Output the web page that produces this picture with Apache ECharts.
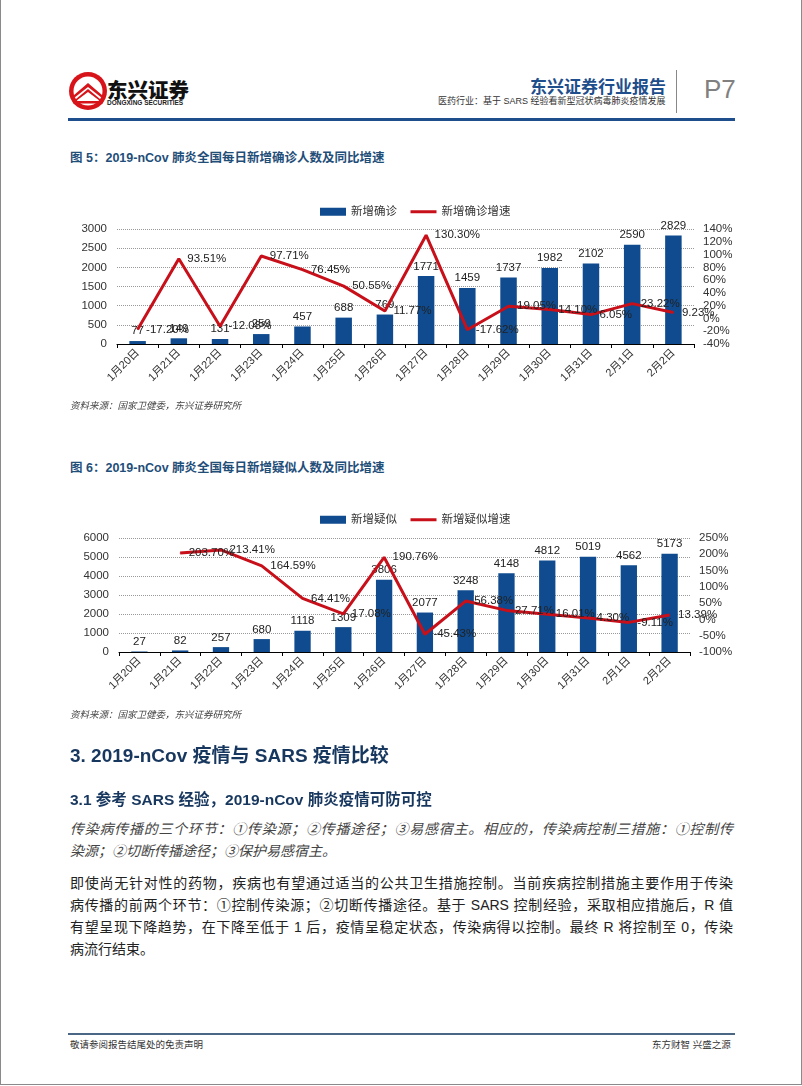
<!DOCTYPE html>
<html>
<head>
<meta charset="utf-8">
<script src="https://cdn.jsdelivr.net/npm/echarts@6/dist/echarts.min.js"></script>
<style>
  html, body { margin: 0; padding: 0; background: #fff; }
  body { width: 802px; height: 1086px; position: relative; overflow: hidden;
         font-family: "Liberation Sans", "Noto Sans CJK SC", sans-serif; }
  .frame { position: absolute; left: 0; top: 0; width: 800px; height: 1084px;
           border-left: 1px solid #8a8a8a; border-right: 1px solid #8a8a8a; border-bottom: 1px solid #8a8a8a; }
  .abs { position: absolute; white-space: nowrap; }
  .figtitle { font-size: 12.5px; font-weight: bold; color: #1f4e79; }
  .source { font-size: 9.5px; font-style: italic; color: #444; }
  .line { position: absolute; left: 70px; width: 663px; font-size: 14px; line-height: 22px;
          text-align: justify; text-align-last: justify; white-space: nowrap; }
  .p1 { font-style: italic; color: #444; }
  .p2 { color: #222; }
</style>
</head>
<body>
<div class="frame"></div>

<!-- header -->
<svg class="abs" style="left:68px;top:71px" width="40" height="40" viewBox="0 0 40 40">
  <circle cx="20" cy="20" r="19" fill="#d7141a"/>
  <circle cx="20" cy="20" r="14.5" fill="#fff"/>
  <path d="M6 24 L20 12 L34 24 L34 27 L20 16 L6 27 Z" fill="#d7141a"/>
  <path d="M8 28 L20 18 L32 28 L32 30 L20 21 L8 30 Z" fill="#d7141a"/>
  <rect x="5" y="30" width="30" height="2.5" fill="#d7141a"/>
</svg>
<div class="abs" style="left:107px;top:74px;font-size:20.5px;font-weight:900;color:#111">东兴证券</div>
<div class="abs" style="left:107px;top:99px;font-size:6.5px;font-weight:bold;color:#222">DONGXING SECURITIES</div>
<div class="abs" style="left:530px;top:73px;font-size:17px;font-weight:bold;color:#1f4e8c">东兴证券行业报告</div>
<div class="abs" style="left:438px;top:94px;font-size:9px;color:#333">医药行业：基于 SARS 经验看新型冠状病毒肺炎疫情发展</div>
<div class="abs" style="left:676px;top:70px;width:1px;height:43px;background:#888"></div>
<div class="abs" style="left:704px;top:74px;font-size:26px;color:#808080">P7</div>
<div class="abs" style="left:68px;top:118px;width:667px;height:3px;background:#1f4e8c"></div>

<!-- figure 5 -->
<div class="abs figtitle" style="left:70px;top:147px">图 5：2019-nCov 肺炎全国每日新增确诊人数及同比增速</div>
<div id="chart1" class="abs" style="left:60px;top:185px;width:700px;height:220px"></div>
<div class="abs source" style="left:70px;top:398px">资料来源：国家卫健委，东兴证券研究所</div>

<!-- figure 6 -->
<div class="abs figtitle" style="left:70px;top:457px">图 6：2019-nCov 肺炎全国每日新增疑似人数及同比增速</div>
<div id="chart2" class="abs" style="left:60px;top:495px;width:700px;height:220px"></div>
<div class="abs source" style="left:70px;top:707px">资料来源：国家卫健委，东兴证券研究所</div>

<!-- text -->
<div class="abs" style="left:70px;top:740px;font-size:19px;font-weight:bold;color:#17375e">3. 2019-nCov 疫情与 SARS 疫情比较</div>
<div class="abs" style="left:70px;top:787px;font-size:15.5px;font-weight:bold;color:#17375e">3.1 参考 SARS 经验，2019-nCov 肺炎疫情可防可控</div>

<div class="line p1" style="top:818px">传染病传播的三个环节：①传染源；②传播途径；③易感宿主。相应的，传染病控制三措施：①控制传</div>
<div class="line p1" style="top:840px;text-align-last:left">染源；②切断传播途径；③保护易感宿主。</div>

<div class="line p2" style="top:872px">即使尚无针对性的药物，疾病也有望通过适当的公共卫生措施控制。当前疾病控制措施主要作用于传染</div>
<div class="line p2" style="top:894px">病传播的前两个环节：①控制传染源；②切断传播途径。基于 SARS 控制经验，采取相应措施后，R 值</div>
<div class="line p2" style="top:916px">有望呈现下降趋势，在下降至低于 1 后，疫情呈稳定状态，传染病得以控制。最终 R 将控制至 0，传染</div>
<div class="line p2" style="top:938px;text-align-last:left">病流行结束。</div>

<!-- footer -->
<div class="abs" style="left:68px;top:1033px;width:667px;height:2px;background:#4a6785"></div>
<div class="abs" style="left:70px;top:1037px;font-size:9.5px;color:#333">敬请参阅报告结尾处的免责声明</div>
<div class="abs" style="left:652px;top:1037px;font-size:9.5px;color:#333">东方财智 兴盛之源</div>

<script>
// categories
const days = ['1月20日', '1月21日', '1月22日', '1月23日', '1月24日', '1月25日', '1月26日',
              '1月27日', '1月28日', '1月29日', '1月30日', '1月31日', '2月1日', '2月2日'];

// 图5: 新增确诊 / 增速(%)
const confirmed = [77, 149, 131, 259, 457, 688, 769, 1771, 1459, 1737, 1982, 2102, 2590, 2829];
const confirmedGrowth = [-17.20, 93.51, -12.08, 97.71, 76.45, 50.55, 11.77, 130.30, -17.62, 19.05, 14.10, 6.05, 23.22, 9.23];

// 图6: 新增疑似 / 增速(%)
const suspected = [27, 82, 257, 680, 1118, 1309, 3806, 2077, 3248, 4148, 4812, 5019, 4562, 5173];
const suspectedGrowth = [null, 203.70, 213.41, 164.59, 64.41, 17.08, 190.76, -45.43, 56.38, 27.71, 16.01, 4.30, -9.11, 13.39];

// axis ranges (tick labels)
const axis1Left = {min: 0, max: 3000, interval: 500};
const axis1Right = {min: -40, max: 140, interval: 20};
const axis2Left = {min: 0, max: 6000, interval: 1000};
const axis2Right = {min: -100, max: 250, interval: 50};

const FONT = '"Liberation Sans", "Noto Sans CJK SC", sans-serif';
const BLUE = '#0f4b8e';
const RED = '#c8101a';

function buildOption(cfg) {
    return {
        animation: false,
        textStyle: {fontFamily: FONT},
        legend: {
            left: cfg.legendLeft,
            top: cfg.legendTop,
            itemWidth: 26,
            itemHeight: 8,
            itemGap: 12,
            textStyle: {fontSize: 11.5, color: '#333', fontFamily: FONT},
            data: [
                {name: cfg.barName, icon: 'rect'},
                // hide the legend dot, keep only the red stroke
                {name: cfg.lineName, itemStyle: {opacity: 0}, lineStyle: {width: 3, color: RED}}
            ]
        },
        grid: cfg.grid,
        xAxis: {
            type: 'category',
            data: days,
            axisLine: {lineStyle: {color: '#000', width: 1}},
            axisTick: {show: true, length: 4, lineStyle: {color: '#000'}},
            axisLabel: {rotate: 45, fontSize: 11, color: '#333', margin: 7, fontFamily: FONT}
        },
        yAxis: [
            {
                type: 'value',
                min: cfg.left.min, max: cfg.left.max, interval: cfg.left.interval,
                axisLine: {show: false},
                axisTick: {show: false},
                axisLabel: {fontSize: 11.5, color: '#333', margin: 10, fontFamily: FONT,
                            formatter: v => String(v)},
                splitLine: {lineStyle: {type: 'dotted', color: '#999'}}
            },
            {
                type: 'value',
                min: cfg.right.min, max: cfg.right.max, interval: cfg.right.interval,
                axisLine: {show: false},
                axisTick: {show: false},
                axisLabel: {fontSize: 11.5, color: '#333', margin: 9, fontFamily: FONT,
                            formatter: v => v + '%'},
                splitLine: {show: false}
            }
        ],
        series: [
            {
                name: cfg.barName,
                type: 'bar',
                barWidth: '40%',
                itemStyle: {color: BLUE},
                label: {show: true, position: 'top', fontSize: 11.5, color: '#222', distance: 4},
                data: cfg.bars
            },
            {
                name: cfg.lineName,
                type: 'line',
                yAxisIndex: 1,
                symbol: 'circle',
                symbolSize: 1,
                showSymbol: true,
                connectNulls: false,
                lineStyle: {color: RED, width: 3},
                itemStyle: {color: RED},
                label: {
                    show: true, position: 'right', fontSize: 11.5, color: '#222', distance: 8,
                    formatter: p => (p.value == null ? '' : p.value.toFixed(2) + '%')
                },
                labelLayout: {hideOverlap: false},
                data: cfg.line
            }
        ]
    };
}

const chart1 = echarts.init(document.getElementById('chart1'));
chart1.setOption(buildOption({
    barName: '新增确诊', lineName: '新增确诊增速',
    bars: confirmed, line: confirmedGrowth,
    left: axis1Left, right: axis1Right,
    legendLeft: 255, legendTop: 16,
    grid: {left: 57, right: 66, top: 44, bottom: 61}
}));

const chart2 = echarts.init(document.getElementById('chart2'));
chart2.setOption(buildOption({
    barName: '新增疑似', lineName: '新增疑似增速',
    bars: suspected, line: suspectedGrowth,
    left: axis2Left, right: axis2Right,
    legendLeft: 255, legendTop: 14,
    grid: {left: 59, right: 70, top: 43, bottom: 63}
}));
</script>
</body>
</html>
